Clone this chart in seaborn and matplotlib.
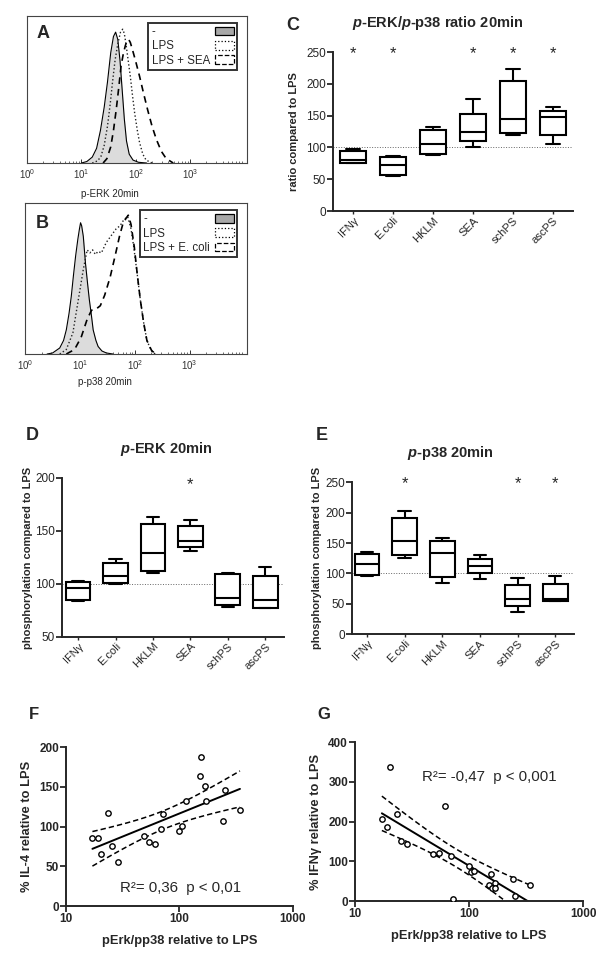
""" Phospho-flow histograms, box plots and correlations (panels A-G). """
import numpy as np
import pandas as pd
import seaborn as sns
import matplotlib.pyplot as plt
from matplotlib.patches import Patch
from matplotlib.ticker import LogLocator, NullLocator, NullFormatter, FixedLocator

sns.set_theme(style="ticks")
plt.rcParams['font.family'] = ['Liberation Sans', 'DejaVu Sans']
plt.rcParams['mathtext.fontset'] = 'custom'
plt.rcParams['mathtext.rm'] = 'Liberation Sans'
plt.rcParams['mathtext.it'] = 'Liberation Sans:italic'
plt.rcParams['mathtext.bf'] = 'Liberation Sans:bold'
plt.rcParams['mathtext.bfit'] = 'Liberation Sans:italic:bold'

# ---- histogram traces (log10 intensity, % of max) ----
a_ctrl_log = [1.00, 1.10, 1.20, 1.28, 1.35, 1.42, 1.48, 1.54, 1.59, 1.63, 1.67, 1.71, 1.75, 1.79, 1.83, 1.88, 1.95, 2.05, 2.20]
a_ctrl_h = [0, 1, 4, 10, 22, 38, 55, 75, 86, 89, 84, 70, 50, 30, 15, 6, 2, 0.5, 0]
a_lps_log = [1.20, 1.30, 1.36, 1.42, 1.48, 1.53, 1.57, 1.62, 1.67, 1.72, 1.76, 1.79, 1.82, 1.86, 1.90, 1.94, 1.98, 2.03, 2.07, 2.13, 2.19, 2.30]
a_lps_h = [0, 1.5, 4.5, 12, 25, 40, 54, 70, 81, 89, 91, 88, 81, 70, 59, 46, 34, 22, 14, 6, 2, 0]
a_sea_log = [1.40, 1.47, 1.54, 1.59, 1.64, 1.69, 1.73, 1.77, 1.81, 1.84, 1.87, 1.90, 1.94, 2.00, 2.07, 2.14, 2.22, 2.30, 2.38, 2.47, 2.56, 2.69]
a_sea_h = [0, 3, 11, 22, 36, 52, 66, 74, 80, 83, 84, 82, 77, 69, 59, 48, 36, 25, 16, 8, 3, 0]

b_ctrl_log = [0.40, 0.50, 0.63, 0.70, 0.75, 0.80, 0.84, 0.88, 0.92, 0.96, 0.99, 1.01, 1.03, 1.06, 1.10, 1.14, 1.17, 1.21, 1.24, 1.29, 1.33, 1.40, 1.48, 1.60]
b_ctrl_h = [0, 0.7, 4, 9, 16, 27, 38, 52, 65, 76, 83, 87, 85, 78, 60, 46, 36, 25, 16, 9, 5, 2, 0.7, 0]
b_lps_log = [0.63, 0.75, 0.87, 0.96, 1.06, 1.13, 1.18, 1.23, 1.28, 1.33, 1.39, 1.48, 1.58, 1.66, 1.73, 1.80, 1.87, 1.93, 1.98, 2.04, 2.10, 2.16, 2.22, 2.29, 2.37]
b_lps_h = [0, 3, 14, 34, 56, 69, 67, 69, 66, 68, 67, 74, 79, 83, 85, 89, 91, 83, 71, 54, 36, 21, 9, 3, 0]
b_eco_log = [0.75, 0.90, 1.02, 1.13, 1.21, 1.30, 1.37, 1.45, 1.55, 1.64, 1.72, 1.78, 1.84, 1.88, 1.93, 1.99, 2.05, 2.10, 2.16, 2.22, 2.31, 2.40]
b_eco_h = [0, 3, 11, 23, 29, 30, 32, 39, 51, 65, 78, 86, 90, 92, 86, 71, 51, 36, 21, 9, 2, 0]

# ---- box plots: min, q1, median, q3, max per stimulus ----
stimuli = ['IFNγ', 'E.coli', 'HKLM', 'SEA', 'schPS', 'ascPS']
ratio_stats = [[75, 76, 81, 94, 97], [55, 57, 73, 85, 86], [88, 90, 105, 128, 132],
               [100, 110, 125, 153, 176], [120, 122, 145, 205, 223], [106, 120, 148, 158, 164]]
ratio_sig = ['IFNγ', 'E.coli', 'SEA', 'schPS', 'ascPS']
perk_stats = [[84, 85, 96.5, 102, 102.5], [100, 101, 108, 120, 124], [110, 112, 129, 157, 163],
              [131, 135, 141, 155, 160], [78, 80.5, 87, 109, 110], [77, 77.5, 84.5, 108, 116]]
perk_sig = ['SEA']
pp38_stats = [[95, 98, 115, 132, 136], [125, 130, 154, 192, 202], [84, 94, 133, 153, 158],
              [91, 100, 112, 124, 131], [36, 46, 58, 81, 92], [54, 55, 57, 83, 95]]
pp38_sig = ['E.coli', 'schPS', 'ascPS']

# ---- correlations ----
f_ratio = [17.1, 19.0, 23.3, 20.3, 25.2, 28.5, 48.5, 54.0, 61.5, 69.0, 71.8, 100, 105, 113.7,
           153, 156, 169, 170.6, 242, 254, 342]
f_il4 = [85.8, 85.8, 117, 65.7, 75.7, 55.2, 88.3, 80, 77.8, 97, 116, 94, 101, 132,
         164, 187, 151.5, 132.6, 107, 146, 121]
g_ratio = [20.4, 61.4, 23.3, 17.2, 19.0, 25.3, 28.6, 48.7, 54, 68.9, 71.7, 100, 103.5, 111.5,
           155, 151, 160.6, 169.5, 168, 241, 251, 343]
g_ifng = [336.5, 240, 219, 206, 186, 152, 144.5, 118.6, 120, 114, 6, 87, 72, 76,
          68.5, 41, 34, 45, 32.6, 56, 13.4, 40]

fig = plt.figure(figsize=(6, 9.55), dpi=100)


def px(x, y):
    return x / 600, 1 - y / 955


def histogram(ax, ctrl, lps, third, labels, xlabel, lab_x, lab_y):
    ax.fill_between(10 ** np.array(ctrl[0]), ctrl[1], color='#dcdcdc', lw=0)
    sns.lineplot(x=10 ** np.array(ctrl[0]), y=ctrl[1], ax=ax, color='black', lw=0.8,
                 sort=False, estimator=None)
    sns.lineplot(x=10 ** np.array(lps[0]), y=lps[1], ax=ax, color='#222222', lw=1.0,
                 ls=':', sort=False, estimator=None)
    sns.lineplot(x=10 ** np.array(third[0]), y=third[1], ax=ax, color='black', lw=1.2,
                 dashes=(4, 3), sort=False, estimator=None)
    ax.set_xscale('log')
    ax.set_xlim(1, 10 ** 4.05)
    ax.set_ylim(0, 100)
    ax.yaxis.set_major_locator(NullLocator())
    ax.xaxis.set_major_locator(FixedLocator([1, 10, 100, 1000]))
    ax.xaxis.set_minor_locator(LogLocator(subs=np.arange(2, 10)))
    ax.xaxis.set_minor_formatter(NullFormatter())
    ax.tick_params(axis='x', which='major', direction='in', labelsize=7, length=3, width=0.7,
                   pad=3, colors='#333333')
    ax.tick_params(axis='x', which='minor', direction='in', length=1.5, width=0.5, colors='#333333')
    for s in ax.spines.values():
        s.set_linewidth(0.8)
        s.set_color('#444444')
    ax.set_xlabel(xlabel, fontsize=7)
    ax.xaxis.set_label_coords(lab_x, lab_y)
    ax.set_ylabel('')
    handles = [Patch(facecolor='#a8a8a8', edgecolor='black', lw=0.9),
               Patch(facecolor='white', edgecolor='black', lw=0.9, ls=':'),
               Patch(facecolor='white', edgecolor='black', lw=0.9, ls='--')]
    leg = ax.legend(handles, labels, loc='upper right', bbox_to_anchor=(0.955, 0.955),
                    markerfirst=False, frameon=True, fancybox=False, fontsize=8.3,
                    handlelength=1.65, handleheight=0.8, borderpad=0.3, labelspacing=0.2,
                    handletextpad=0.4, borderaxespad=0)
    leg.get_frame().set_edgecolor('black')
    leg.get_frame().set_linewidth(1.4)
    return leg


def left_align(leg):
    # labels left, symbols right: widen the gap of the shorter entries
    r = fig.canvas.get_renderer()
    entries = leg._legend_handle_box.get_children()[0].get_children()
    widths = [t.get_window_extent(r).width for t in leg.get_texts()]
    for e, w in zip(entries, widths):
        e.sep += (max(widths) - w) * 72 / fig.dpi


axA = fig.add_axes([0.045, 0.8293, 0.367, 0.154])
legA = histogram(axA, (a_ctrl_log, a_ctrl_h), (a_lps_log, a_lps_h), (a_sea_log, a_sea_h),
                 ['-', 'LPS', 'LPS + SEA'], 'p-ERK 20min', 0.377, -0.177)
axB = fig.add_axes([0.042, 0.6293, 0.37, 0.158])
legB = histogram(axB, (b_ctrl_log, b_ctrl_h), (b_lps_log, b_lps_h), (b_eco_log, b_eco_h),
                 ['-', 'LPS', 'LPS + E. coli'], 'p-p38 20min', 0.36, -0.15)


def boxpanel(ax, stats, sig, ylim, yticks, star_y, ylabel, xlim, lab_x):
    df = pd.DataFrame({'stim': np.repeat(stimuli, 5), 'val': np.concatenate(stats)})
    sns.boxplot(data=df, x='stim', y='val', order=stimuli, whis=(0, 100), width=0.66,
                color='white', linecolor='black', linewidth=1.5, fliersize=0, ax=ax)
    ax.axhline(100, ls=':', color='#666666', lw=0.7, zorder=0)
    for s in sig:
        ax.text(stimuli.index(s), star_y, '*', ha='center', va='center', fontsize=12)
    ax.set_ylim(*ylim)
    ax.set_xlim(*xlim)
    ax.set_yticks(yticks)
    sns.despine(ax=ax)
    for s in ('left', 'bottom'):
        ax.spines[s].set_linewidth(1.4)
    ax.tick_params(axis='y', length=4, width=1.3, labelsize=8.5, pad=1)
    ax.tick_params(axis='x', length=2, width=1.0, labelsize=8, pad=1)
    plt.setp(ax.get_xticklabels(), rotation=45, ha='right', rotation_mode='anchor')
    ax.set_xlabel('')
    ax.set_ylabel(ylabel, fontsize=8, fontweight='bold')
    ax.yaxis.set_label_coords(lab_x, 0.5)


axC = fig.add_axes([0.555, 0.779, 0.40, 0.1665])
boxpanel(axC, ratio_stats, ratio_sig, (0, 250), range(0, 251, 50), 247,
         'ratio compared to LPS', (-0.5, 5.5), -0.14)
axD = fig.add_axes([0.1033, 0.333, 0.37, 0.1665])
boxpanel(axD, perk_stats, perk_sig, (50, 200), range(50, 201, 50), 194,
         'phosphorylation compared to LPS', (-0.43, 5.5), -0.13)
axE = fig.add_axes([0.5867, 0.336, 0.37, 0.159])
boxpanel(axE, pp38_stats, pp38_sig, (0, 250), range(0, 251, 50), 247,
         'phosphorylation compared to LPS', (-0.4, 5.5), -0.135)

fig.text(*px(438, 23), r'$\mathbfit{p}$-ERK/$\mathbfit{p}$-p38 ratio 20min', ha='center', va='center',
         fontsize=10.5, fontweight='bold')
fig.text(*px(166, 449), r'$\mathbfit{p}$-ERK 20min', ha='center', va='center',
         fontsize=10.5, fontweight='bold')
fig.text(*px(450, 453), r'$\mathbfit{p}$-p38 20min', ha='center', va='center',
         fontsize=10.5, fontweight='bold')


def corrpanel(ax, x, y, ylim, yticks, ylabel, note, note_xy):
    sns.scatterplot(x=x, y=y, ax=ax, marker='o', s=15, facecolor='white', edgecolor='black',
                    linewidth=1.0, zorder=3)
    lx = np.log10(x)
    yy = np.array(y)
    n = len(lx)
    b, a = np.polyfit(lx, yy, 1)
    resid = yy - (a + b * lx)
    s = np.sqrt(np.sum(resid ** 2) / (n - 2))
    sxx = np.sum((lx - lx.mean()) ** 2)
    grid = np.linspace(lx.min(), lx.max(), 100)
    fit = a + b * grid
    band = 2.09 * s * np.sqrt(1 / n + (grid - lx.mean()) ** 2 / sxx)
    sns.lineplot(x=10 ** grid, y=fit, ax=ax, color='black', lw=1.4)
    sns.lineplot(x=10 ** grid, y=fit + band, ax=ax, color='black', lw=1.1, dashes=(3.5, 2))
    sns.lineplot(x=10 ** grid, y=fit - band, ax=ax, color='black', lw=1.1, dashes=(3.5, 2))
    ax.set_xscale('log')
    ax.set_xlim(10, 1000)
    ax.set_ylim(*ylim)
    ax.set_yticks(yticks)
    ax.xaxis.set_major_locator(FixedLocator([10, 100, 1000]))
    ax.xaxis.set_major_formatter(plt.FuncFormatter(lambda v, p: f'{v:.0f}'))
    ax.xaxis.set_minor_locator(NullLocator())
    sns.despine(ax=ax)
    for sp in ('left', 'bottom'):
        ax.spines[sp].set_linewidth(1.4)
    ax.tick_params(length=4, width=1.3, labelsize=8.5, pad=1)
    for lab in ax.get_xticklabels() + ax.get_yticklabels():
        lab.set_fontweight('bold')
    ax.set_xlabel('pErk/pp38 relative to LPS', fontsize=9.3, fontweight='bold')
    ax.set_ylabel(ylabel, fontsize=9.3, fontweight='bold')
    ax.xaxis.set_label_coords(0.5, -0.18)
    ax.yaxis.set_label_coords(-0.145, 0.5)
    ax.text(*note_xy, note, transform=ax.transAxes, fontsize=10.8, ha='left', va='center')


axF = fig.add_axes([0.11, 0.0513, 0.378, 0.1665])
corrpanel(axF, f_ratio, f_il4, (0, 200), range(0, 201, 50), '% IL-4 relative to LPS',
          'R²= 0,36  p < 0,01', (0.238, 0.113))
axG = fig.add_axes([0.5917, 0.0565, 0.38, 0.1665])
corrpanel(axG, g_ratio, g_ifng, (0, 400), range(0, 401, 100), '% IFNγ relative to LPS',
          'R²= -0,47  p < 0,001', (0.294, 0.78))

for letter, (x, y), size in [('A', (43, 33), 13), ('B', (42, 223), 13), ('C', (293, 25), 13),
                             ('D', (32, 435), 13), ('E', (322, 435), 13),
                             ('F', (34, 714), 12), ('G', (324, 714), 12)]:
    fig.text(*px(x, y), letter, ha='center', va='center', fontsize=size, fontweight='bold')

fig.canvas.draw()
left_align(legA)
left_align(legB)
fig.savefig('out.png', dpi=100)
